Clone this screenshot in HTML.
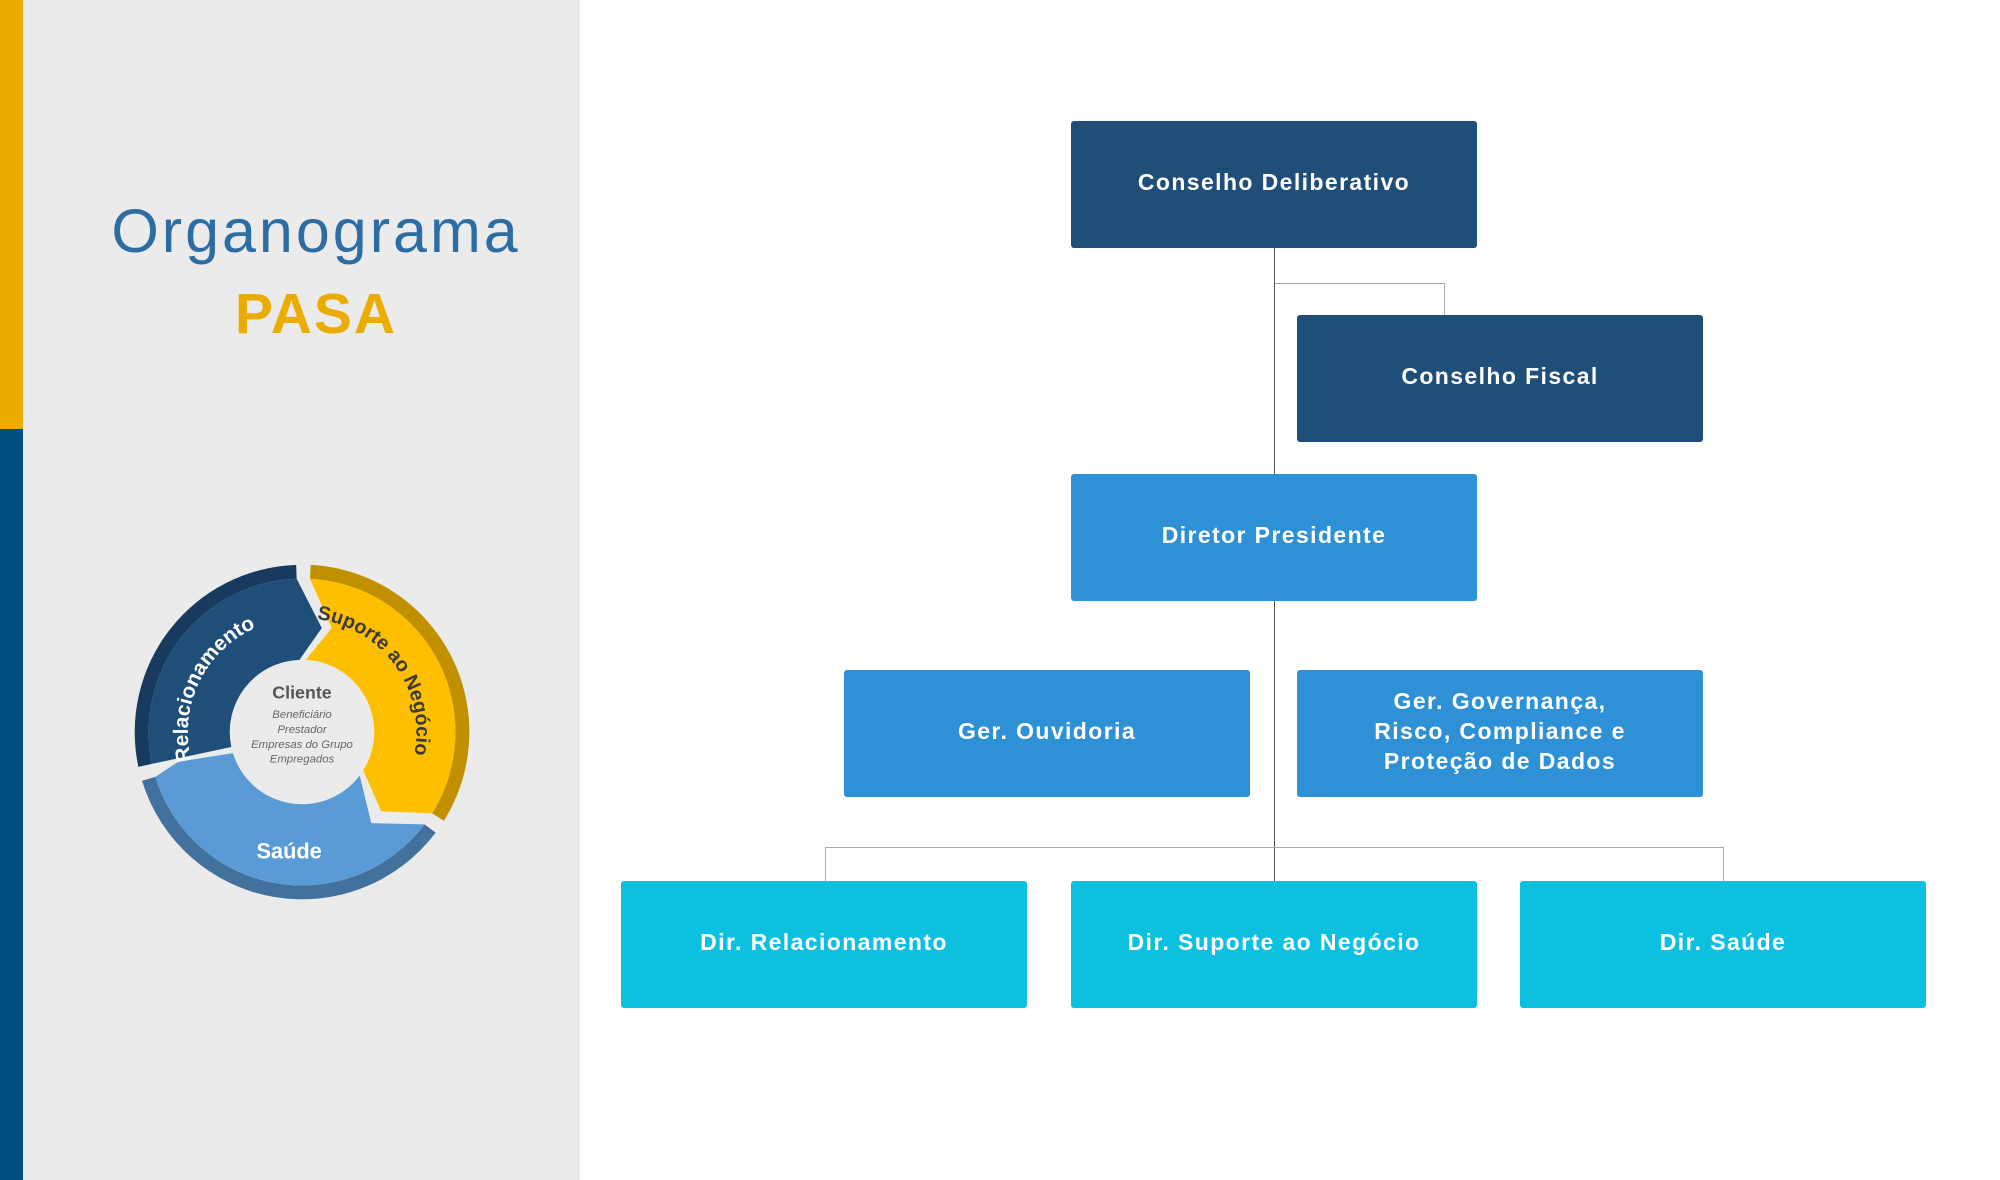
<!DOCTYPE html>
<html><head><meta charset="utf-8"><style>
body{margin:0;width:2000px;height:1180px;position:relative;overflow:hidden;background:#fff;font-family:"Liberation Sans",sans-serif}
.a{position:absolute}
.b{position:absolute;width:406px;height:127px;border-radius:3px;color:#fff;font-weight:bold;font-size:23px;letter-spacing:1.4px;display:flex;align-items:center;justify-content:center;text-align:center;line-height:30px;box-sizing:border-box;padding-bottom:6px}
.d{background:#1f4e79}.m{background:#2e91d5}.c{background:#0dc0e0}
.l{position:absolute;background:#555}
.g{position:absolute;background:#aaa}
</style></head><body>
<div class="a" style="left:0;top:0;width:580px;height:1180px;background:#ebebeb"></div>
<div class="a" style="left:0;top:0;width:23px;height:429px;background:#ebac00"></div>
<div class="a" style="left:0;top:429px;width:23px;height:751px;background:#004f80"></div>
<div class="a" style="left:0;width:632px;top:196px;text-align:center;color:#2e6da4;font-size:61px;letter-spacing:3px">Organograma</div>
<div class="a" style="left:0;width:632px;top:281px;text-align:center;color:#ebac00;font-size:57px;font-weight:bold;letter-spacing:2px">PASA</div>
<svg class="a" style="left:132px;top:562px" width="340" height="340" viewBox="0 0 340 340">
<g transform="translate(170 170) scale(0.99) translate(-170 -170)">
<path d="M4.7,205.2 A169 169 0 0 1 164.1,1.2 L164.6,15.2 A155 155 0 0 0 18.4,202.2 Z" fill="#173a5e"/>
<path d="M18.4,202.2 A155 155 0 0 1 164.6,15.2 L190,65 L167.4,97.1 A73 73 0 0 0 98.6,185.2 Z" fill="#1f4e79"/>
<path d="M178.8,1.2 A169 169 0 0 1 313.3,259.6 L301.4,252.2 A155 155 0 0 0 178.1,15.2 Z" fill="#c09000"/>
<path d="M178.1,15.2 A155 155 0 0 1 301.4,252.2 L250,250 L231.9,208.7 A73 73 0 0 0 173.8,97.1 L200,65 Z" fill="#fdbf00"/>
<path d="M305,271.7 A169 169 0 0 1 8.4,219.3 L21.8,215.3 A155 155 0 0 0 293.8,263.3 Z" fill="#41719c"/>
<path d="M21.8,215.3 A155 155 0 0 0 293.8,263.3 L240,262 L228.3,213.9 A73 73 0 0 1 100.2,191.3 L45,200 Z" fill="#5b9bd5"/>
<circle cx="170" cy="170" r="72" fill="#ebebeb"/>
<defs>
<path id="p1" d="M58.4,198.9 A115 115 0 0 1 166,55"/>
<path id="p2" d="M185,56 A115 115 0 0 1 276,216"/>
</defs>
<text font-family="Liberation Sans" font-weight="bold" font-size="21" fill="#fff"><textPath href="#p1">Relacionamento</textPath></text>
<text font-family="Liberation Sans" font-weight="bold" font-size="20" fill="#3a3a3a"><textPath href="#p2">Suporte ao Negócio</textPath></text>
<text x="157" y="298" text-anchor="middle" font-family="Liberation Sans" font-weight="bold" font-size="22" fill="#fff">Saúde</text>
<text x="170" y="136" text-anchor="middle" font-family="Liberation Sans" font-weight="bold" font-size="18" fill="#555">Cliente</text>
<g font-family="Liberation Sans" font-style="italic" font-size="11.5" fill="#666" text-anchor="middle">
<text x="170" y="156">Beneficiário</text><text x="170" y="171">Prestador</text>
<text x="170" y="186">Empresas do Grupo</text><text x="170" y="201">Empregados</text></g>
</g>
</svg>
<div class="l" style="left:1274px;top:247px;width:1px;height:634px"></div>
<div class="g" style="left:1275px;top:283px;width:169px;height:1px"></div>
<div class="g" style="left:1444px;top:283px;width:1px;height:32px"></div>
<div class="g" style="left:825px;top:847px;width:899px;height:1px"></div>
<div class="g" style="left:825px;top:847px;width:1px;height:34px"></div>
<div class="g" style="left:1723px;top:847px;width:1px;height:34px"></div>
<div class="b d" style="left:1071px;top:121px">Conselho Deliberativo</div>
<div class="b d" style="left:1297px;top:315px">Conselho Fiscal</div>
<div class="b m" style="left:1071px;top:474px">Diretor Presidente</div>
<div class="b m" style="left:844px;top:670px">Ger. Ouvidoria</div>
<div class="b m" style="left:1297px;top:670px">Ger. Governança,<br>Risco, Compliance e<br>Proteção de Dados</div>
<div class="b c" style="left:621px;top:881px">Dir. Relacionamento</div>
<div class="b c" style="left:1071px;top:881px">Dir. Suporte ao Negócio</div>
<div class="b c" style="left:1520px;top:881px">Dir. Saúde</div>
</body></html>
